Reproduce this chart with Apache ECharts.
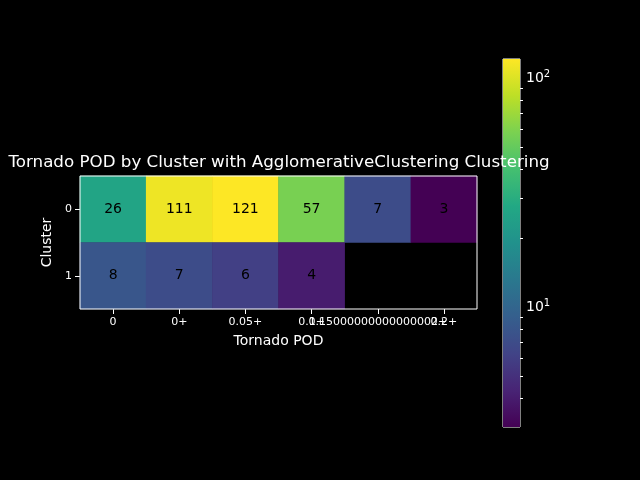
<!DOCTYPE html>
<html>
<head>
<meta charset="utf-8">
<script src="https://cdn.jsdelivr.net/npm/echarts@6/dist/echarts.min.js"></script>
<style>html,body{margin:0;padding:0;background:#000;}#c{width:640px;height:480px;}</style>
</head>
<body>
<div id="c"></div>
<script>
var xCategories = ['0', '0+', '0.05+', '0.1+', '0.15000000000000002+', '0.2+'];
var yCategories = ['0', '1'];
var row0 = [26, 111, 121, 57, 7, 3];
var row1 = [8, 7, 6, 4, null, null];
var colorMin = 3;
var colorMax = 121;
var majorTicks = [10, 100];
var minorTicks = [4, 5, 6, 7, 8, 9, 20, 30, 40, 50, 60, 70, 80, 90];

var viridis = ['#440154','#482475','#414487','#355f8d','#2a788e','#21918c','#22a884','#44bf70','#7ad151','#bddf26','#fde725'];
var lg = Math.log10;
var rows = [row0, row1];
var data = [];
rows.forEach(function (r, yi) {
  r.forEach(function (v, xi) {
    if (v !== null) data.push({value: [xi, yi, lg(v)], raw: v});
  });
});
var font = 'DejaVu Sans';
var chart = echarts.init(document.getElementById('c'), null, {renderer: 'canvas'});
chart.setOption({
  backgroundColor: '#000',
  animation: false,
  title: {
    text: 'Tornado POD by Cluster with AgglomerativeClustering Clustering',
    left: 274, top: 149, textAlign: 'center',
    textStyle: {color: '#fff', fontFamily: font, fontSize: 16.7, fontWeight: 'normal'}
  },
  grid: [
    {left: 80, top: 176, width: 397, height: 133, show: true, borderColor: '#fff', borderWidth: 1, backgroundColor: 'transparent', z: 5},
    {left: 503, top: 59, width: 17, height: 368, show: true, borderColor: '#fff', borderWidth: 1, backgroundColor: 'transparent'}
  ],
  xAxis: [
    {type: 'category', gridIndex: 0, data: xCategories,
     name: 'Tornado POD', nameLocation: 'middle', nameGap: 25,
     nameTextStyle: {color: '#fff', fontFamily: font, fontSize: 14},
     axisLine: {show: false},
     axisTick: {show: true, alignWithLabel: true, length: 5, lineStyle: {color: '#fff'}},
     axisLabel: {color: '#fff', fontFamily: font, fontSize: 11, margin: 8, interval: 0, hideOverlap: false},
     splitLine: {show: false}},
    {type: 'value', gridIndex: 1, min: 0, max: 1, show: false}
  ],
  yAxis: [
    {type: 'category', gridIndex: 0, data: yCategories, inverse: true,
     name: 'Cluster', nameLocation: 'middle', nameGap: 23, nameRotate: 90,
     nameTextStyle: {color: '#fff', fontFamily: font, fontSize: 14},
     axisLine: {show: false},
     axisTick: {show: true, alignWithLabel: true, length: 5, lineStyle: {color: '#fff'}},
     axisLabel: {color: '#fff', fontFamily: font, fontSize: 11, margin: 8},
     splitLine: {show: false}},
    {type: 'value', gridIndex: 1, position: 'right', min: lg(colorMin), max: lg(colorMax),
     axisLine: {show: false},
     axisTick: {show: true, length: 5, lineStyle: {color: '#fff'}, customValues: majorTicks.map(lg)},
     axisLabel: {show: true, margin: 6, customValues: majorTicks.map(lg),
       formatter: function (v) { return '10{s|' + Math.round(v) + '}'; },
       color: '#fff', fontFamily: font, fontSize: 14,
       rich: {s: {fontSize: 10, verticalAlign: 'top', color: '#fff', fontFamily: font, padding: [0, 0, 8, 0]}}},
     splitLine: {show: false}},
    {type: 'value', gridIndex: 1, position: 'right', min: lg(colorMin), max: lg(colorMax),
     axisLine: {show: false},
     axisTick: {show: true, length: 3, lineStyle: {color: '#fff'}, customValues: minorTicks.map(lg)},
     axisLabel: {show: false, customValues: minorTicks.map(lg)},
     splitLine: {show: false}}
  ],
  visualMap: {
    show: false, type: 'continuous', seriesIndex: 0, dimension: 2,
    min: lg(colorMin), max: lg(colorMax),
    inRange: {color: viridis}
  },
  series: [
    {type: 'heatmap', xAxisIndex: 0, yAxisIndex: 0, data: data,
     label: {show: true, color: '#000', fontFamily: font, fontSize: 14,
       formatter: function (p) { return String(p.data.raw); }},
     itemStyle: {borderWidth: 0},
     emphasis: {disabled: true}},
    {type: 'custom', xAxisIndex: 1, yAxisIndex: 1, data: [[0, lg(colorMin), 1, lg(colorMax)]],
     renderItem: function (params, api) {
       var p0 = api.coord([api.value(0), api.value(3)]);
       var p1 = api.coord([api.value(2), api.value(1)]);
       var stops = viridis.map(function (c, i) { return {offset: 1 - i / (viridis.length - 1), color: c}; }).reverse();
       return {type: 'rect', shape: {x: p0[0], y: p0[1], width: p1[0] - p0[0], height: p1[1] - p0[1]},
         style: {fill: new echarts.graphic.LinearGradient(0, 0, 0, 1, stops)}};
     }}
  ]
});
</script>
</body>
</html>
